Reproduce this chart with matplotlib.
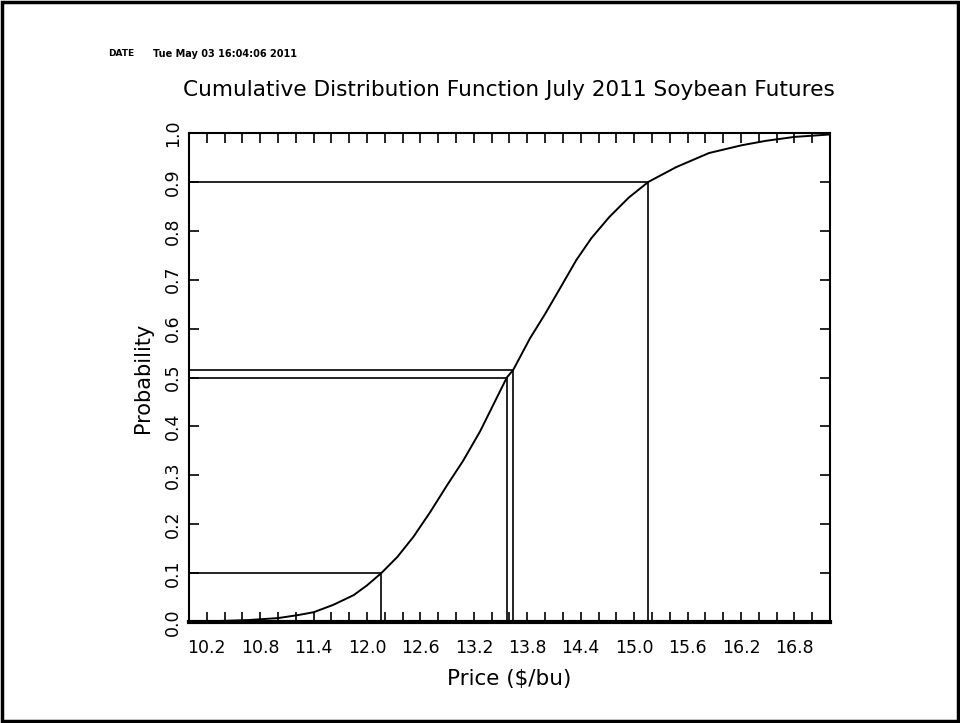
import matplotlib
matplotlib.use('Agg')
import matplotlib.pyplot as plt
import numpy as np
from matplotlib.patches import Rectangle

# CDF curve
price = [10.0, 10.67, 11.0, 11.22, 11.4, 11.62, 11.85, 12.0, 12.16, 12.34, 12.52, 12.71,
         12.9, 13.08, 13.27, 13.42, 13.57, 13.64, 13.83, 14.0, 14.16, 14.35, 14.52,
         14.72, 14.94, 15.16, 15.47, 15.84, 16.21, 16.48, 16.8, 17.2]
prob = [0.0, 0.004, 0.008, 0.014, 0.02, 0.035, 0.055, 0.075, 0.10, 0.133, 0.174, 0.225,
        0.28, 0.33, 0.39, 0.445, 0.50, 0.515, 0.58, 0.63, 0.68, 0.74, 0.785,
        0.828, 0.868, 0.90, 0.93, 0.959, 0.975, 0.984, 0.992, 0.997]

# quantile markers (probability, price)
q_prob = [0.1, 0.5, 0.515, 0.9]
q_price = [12.16, 13.57, 13.64, 15.16]

x_labels = ['10.2', '10.8', '11.4', '12.0', '12.6', '13.2', '13.8', '14.4', '15.0', '15.6', '16.2', '16.8']
y_labels = ['0.0', '0.1', '0.2', '0.3', '0.4', '0.5', '0.6', '0.7', '0.8', '0.9', '1.0']

W, H = 960, 723
fig = plt.figure(figsize=(W / 100, H / 100), dpi=100)
ax = fig.add_axes([189 / W, 1 - 622 / H, 641 / W, 489 / H])

ax.plot(price, prob, color='black', lw=1.4)
for p, x in zip(q_prob, q_price):
    ax.plot([10.0, x], [p, p], color='black', lw=1.2)
    ax.plot([x, x], [0, p], color='black', lw=1.2)

ax.set_xlim(10.0, 17.2)
ax.set_ylim(0, 1.0)

ax.set_xticks([float(s) for s in x_labels])
ax.set_xticklabels(x_labels, fontsize=12.5)
ax.set_xticks(np.arange(10.2, 17.05, 0.2), minor=True)
ax.set_yticks([float(s) for s in y_labels])
ax.set_yticklabels(y_labels, fontsize=12.5, rotation=90, va='center')

ax.tick_params(which='both', direction='in', top=True, right=True, length=7, width=1.2)
ax.tick_params(axis='x', which='major', pad=12)
ax.tick_params(axis='y', which='major', pad=5)

for s in ax.spines.values():
    s.set_linewidth(1.5)
ax.spines['bottom'].set_linewidth(3)

ax.set_xlabel('Price ($/bu)', fontsize=15.5, labelpad=9)
ax.set_ylabel('Probability', fontsize=15, labelpad=8)

fig.text(0.5 * (183 + 835) / W, 1 - 90 / H, 'Cumulative Distribution Function July 2011 Soybean Futures',
         fontsize=15.6, ha='center', va='center')
fig.text(108 / W, 1 - 54 / H, 'DATE', fontsize=6.5, fontweight='bold', va='center')
fig.text(153 / W, 1 - 54 / H, 'Tue May 03 16:04:06 2011', fontsize=7, fontweight='bold', va='center')

fig.patches.append(Rectangle((2 / W, 2 / H), 1 - 4 / W, 1 - 4 / H, transform=fig.transFigure,
                             fill=False, edgecolor='black', lw=2.5))

fig.savefig('out.png', dpi=100)
